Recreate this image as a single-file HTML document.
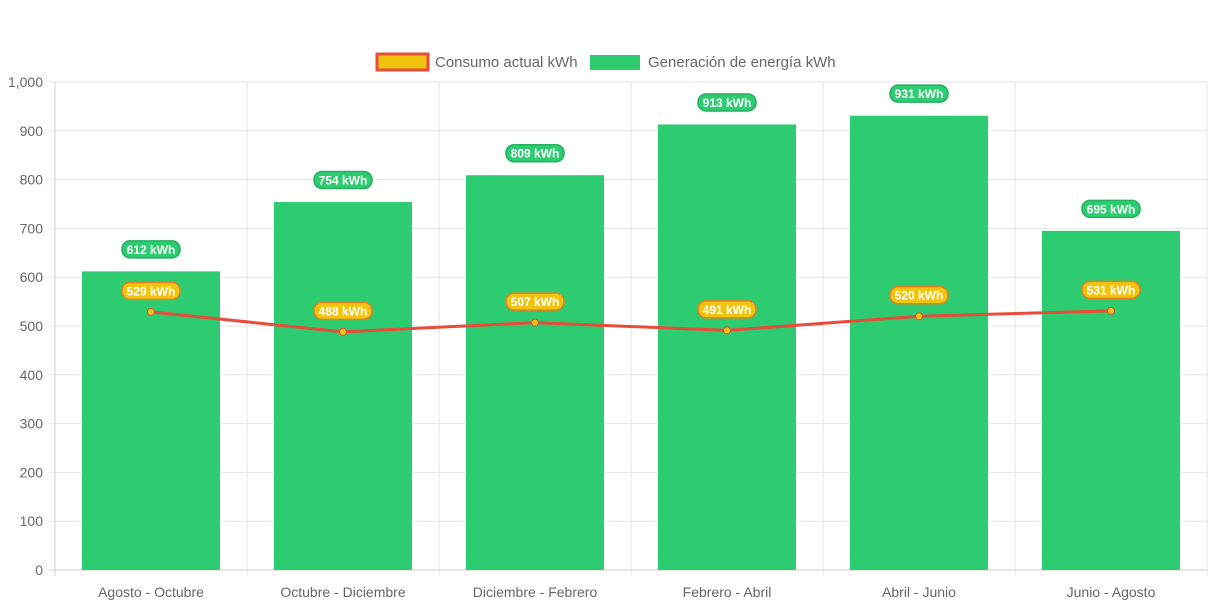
<!DOCTYPE html>
<html><head><meta charset="utf-8"><style>
body{margin:0;background:#fff;width:1213px;height:606px;overflow:hidden;font-family:"Liberation Sans",sans-serif}
</style></head><body>
<svg id="c" width="1213" height="606"></svg>
<script>
const categories=["Agosto - Octubre","Octubre - Diciembre","Diciembre - Febrero","Febrero - Abril","Abril - Junio","Junio - Agosto"];
const generation=[612,754,809,913,931,695];
const consumption=[529,488,507,491,520,531];
const yTicks=[0,100,200,300,400,500,600,700,800,900,1000];
const yTickLabels=["0","100","200","300","400","500","600","700","800","900","1,000"];
const NS="http://www.w3.org/2000/svg";
const svg=document.getElementById("c");
const L=55,R=1207,T=82,B=570,yMax=1000;
const bw=(R-L)/categories.length;
const y=v=>B-(v/yMax)*(B-T);
const xc=i=>L+bw*(i+0.5);
function mk(t,a,p){const e=document.createElementNS(NS,t);for(const k in a)e.setAttribute(k,a[k]);(p||svg).appendChild(e);return e;}
yTicks.forEach((v,i)=>{
 const g=mk("line",{x1:L-6,x2:R,y1:y(v),y2:y(v),stroke:i==0?"#ccc":"#e5e5e5"});
 
 
 const t=mk("text",{x:L-12,y:y(v)+5,"text-anchor":"end","font-size":14,fill:"#666"});
 t.textContent=yTickLabels[i];
 
 
});
for(let i=0;i<=categories.length;i++){
 const g=mk("line",{x1:L+bw*i,x2:L+bw*i,y1:T,y2:B+6,stroke:i==0?"#ccc":"#e5e5e5"});
 
 
}
categories.forEach((c,i)=>{
 const t=mk("text",{x:xc(i),y:597,"text-anchor":"middle","font-size":14,fill:"#666"});
 t.textContent=c;
 
 
});
function pill(cx,cy,txt,fill,stroke,name){
 const w=58,h=17;
 const r=mk("rect",{x:cx-w/2,y:cy-h/2,width:w,height:h,rx:8,fill:fill,stroke:stroke,"stroke-width":1.5});
 
 
 const t=mk("text",{x:cx,y:cy+4.5,"text-anchor":"middle","font-size":12,"font-weight":"bold",fill:"#fff"});
 t.textContent=txt;
 
 
}
const barW=138;
generation.forEach((v,i)=>{
 const b=mk("rect",{x:xc(i)-barW/2,y:y(v),width:barW,height:B-y(v),fill:"#2ecc71"});
 
 
});
const pts=consumption.map((v,i)=>xc(i)+","+y(v)).join(" ");
const pl=mk("polyline",{points:pts,fill:"none",stroke:"#e74c3c","stroke-width":3});


consumption.forEach((v,i)=>{
 const p=mk("circle",{cx:xc(i),cy:y(v),r:3.5,fill:"#f1c40f",stroke:"#e74c3c","stroke-width":1});
 
 
});
generation.forEach((v,i)=>pill(xc(i),y(v)-22,v+" kWh","#2ecc71","#27ae60","generation-value-label"));
consumption.forEach((v,i)=>pill(xc(i),y(v)-21,v+" kWh","#f1c40f","#e67e22","consumption-value-label"));
const l1=mk("rect",{x:377,y:54,width:51,height:16,fill:"#f1c40f",stroke:"#e74c3c","stroke-width":3});


const lt1=mk("text",{x:435,y:67,"font-size":15,fill:"#666"});lt1.textContent="Consumo actual kWh";


const l2=mk("rect",{x:590,y:55,width:50,height:15,fill:"#2ecc71"});


const lt2=mk("text",{x:648,y:67,"font-size":15,fill:"#666"});lt2.textContent="Generación de energía kWh";


</script>
</body></html>
